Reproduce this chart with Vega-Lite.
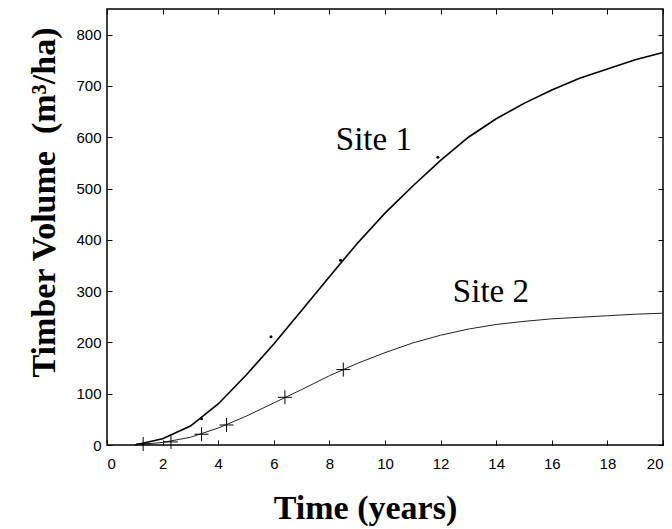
{
  "$schema": "https://vega.github.io/schema/vega-lite/v6.json",
  "width": 556,
  "height": 436,
  "autosize": {"type": "none"},
  "padding": {"left": 107, "top": 9, "right": 9, "bottom": 84},
  "background": "white",
  "config": {
    "view": {"stroke": "black", "strokeWidth": 1.5},
    "axis": {
      "domain": false,
      "grid": false,
      "tickColor": "black",
      "tickSize": -5,
      "tickWidth": 1,
      "labelFont": "Liberation Sans",
      "labelFontSize": 15,
      "labelColor": "black",
      "titleFont": "Liberation Serif",
      "titleFontSize": 34,
      "titleFontWeight": "bold",
      "titleColor": "black"
    }
  },
  "datasets": {
    "pts": [
      {"series": "Site 1", "kind": "curve", "t": 1, "v": 0},
      {"series": "Site 1", "kind": "curve", "t": 2, "v": 12},
      {"series": "Site 1", "kind": "curve", "t": 3, "v": 37},
      {"series": "Site 1", "kind": "curve", "t": 4, "v": 80},
      {"series": "Site 1", "kind": "curve", "t": 5, "v": 136},
      {"series": "Site 1", "kind": "curve", "t": 6, "v": 197},
      {"series": "Site 1", "kind": "curve", "t": 7, "v": 262},
      {"series": "Site 1", "kind": "curve", "t": 8, "v": 328},
      {"series": "Site 1", "kind": "curve", "t": 9, "v": 393},
      {"series": "Site 1", "kind": "curve", "t": 10, "v": 452},
      {"series": "Site 1", "kind": "curve", "t": 11, "v": 505},
      {"series": "Site 1", "kind": "curve", "t": 12, "v": 555},
      {"series": "Site 1", "kind": "curve", "t": 13, "v": 600},
      {"series": "Site 1", "kind": "curve", "t": 14, "v": 636},
      {"series": "Site 1", "kind": "curve", "t": 15, "v": 666},
      {"series": "Site 1", "kind": "curve", "t": 16, "v": 692},
      {"series": "Site 1", "kind": "curve", "t": 17, "v": 715},
      {"series": "Site 1", "kind": "curve", "t": 18, "v": 733},
      {"series": "Site 1", "kind": "curve", "t": 19, "v": 751},
      {"series": "Site 1", "kind": "curve", "t": 20, "v": 765},
      {"series": "Site 2", "kind": "curve", "t": 1, "v": 0},
      {"series": "Site 2", "kind": "curve", "t": 2, "v": 5},
      {"series": "Site 2", "kind": "curve", "t": 3, "v": 15},
      {"series": "Site 2", "kind": "curve", "t": 4, "v": 33},
      {"series": "Site 2", "kind": "curve", "t": 5, "v": 56},
      {"series": "Site 2", "kind": "curve", "t": 6, "v": 82},
      {"series": "Site 2", "kind": "curve", "t": 7, "v": 108},
      {"series": "Site 2", "kind": "curve", "t": 8, "v": 135},
      {"series": "Site 2", "kind": "curve", "t": 9, "v": 159},
      {"series": "Site 2", "kind": "curve", "t": 10, "v": 180},
      {"series": "Site 2", "kind": "curve", "t": 11, "v": 199},
      {"series": "Site 2", "kind": "curve", "t": 12, "v": 214},
      {"series": "Site 2", "kind": "curve", "t": 13, "v": 226},
      {"series": "Site 2", "kind": "curve", "t": 14, "v": 235},
      {"series": "Site 2", "kind": "curve", "t": 15, "v": 241},
      {"series": "Site 2", "kind": "curve", "t": 16, "v": 246},
      {"series": "Site 2", "kind": "curve", "t": 17, "v": 249},
      {"series": "Site 2", "kind": "curve", "t": 18, "v": 252},
      {"series": "Site 2", "kind": "curve", "t": 19, "v": 255},
      {"series": "Site 2", "kind": "curve", "t": 20, "v": 257},
      {"series": "Site 1", "kind": "obs", "t": 3.4, "v": 51},
      {"series": "Site 1", "kind": "obs", "t": 5.9, "v": 211},
      {"series": "Site 1", "kind": "obs", "t": 8.4, "v": 360},
      {"series": "Site 1", "kind": "obs", "t": 11.9, "v": 561},
      {"series": "Site 2", "kind": "obs", "t": 1.3, "v": 2},
      {"series": "Site 2", "kind": "obs", "t": 2.3, "v": 6},
      {"series": "Site 2", "kind": "obs", "t": 3.4, "v": 21},
      {"series": "Site 2", "kind": "obs", "t": 4.3, "v": 39},
      {"series": "Site 2", "kind": "obs", "t": 6.4, "v": 93},
      {"series": "Site 2", "kind": "obs", "t": 8.5, "v": 147}
    ],
    "labels": [
      {"label": "Site 1", "t": 9.6, "v": 576},
      {"label": "Site 2", "t": 13.81, "v": 278}
    ]
  },
  "layer": [
    {
      "data": {"name": "pts"},
      "transform": [{"filter": "datum.kind === 'curve' && datum.series === 'Site 1'"}],
      "mark": {"type": "line", "color": "black", "strokeWidth": 1.6},
      "encoding": {
        "x": {"field": "t", "type": "quantitative",
              "scale": {"domain": [0, 20], "nice": false},
              "axis": {"orient": "bottom", "values": [0,2,4,6,8,10,12,14,16,18,20], "title": "Time (years)",
                       "labelPadding": 16, "titleX": 258, "titleY": 73, "titleBaseline": "alphabetic", "titleAnchor": null, "titleAlign": "center"}},
        "y": {"field": "v", "type": "quantitative",
              "scale": {"domain": [0, 850], "nice": false},
              "axis": {"orient": "left", "values": [0,100,200,300,400,500,600,700,800], "title": "Timber Volume \u00a0(m³/ha)",
                       "labelPadding": 11, "titleX": -63, "titleY": 193, "titleAngle": -90, "titleBaseline": "middle", "titleAlign": "center", "titleAnchor": null}}
      }
    },
    {
      "data": {"name": "pts"},
      "transform": [{"filter": "datum.kind === 'curve' && datum.series === 'Site 2'"}],
      "mark": {"type": "line", "color": "#222222", "strokeWidth": 1},
      "encoding": {
        "x": {"field": "t", "type": "quantitative",
              "axis": {"orient": "top", "values": [0,2,4,6,8,10,12,14,16,18,20], "labels": false, "title": null}},
        "y": {"field": "v", "type": "quantitative",
              "axis": {"orient": "right", "values": [0,100,200,300,400,500,600,700,800], "labels": false, "title": null}}
      }
    },
    {
      "data": {"name": "pts"},
      "transform": [{"filter": "datum.kind === 'obs' && datum.series === 'Site 1'"}],
      "mark": {"type": "point", "shape": "circle", "filled": true, "color": "black", "size": 9, "opacity": 1},
      "encoding": {
        "x": {"field": "t", "type": "quantitative", "axis": null},
        "y": {"field": "v", "type": "quantitative", "axis": null}
      }
    },
    {
      "data": {"name": "pts"},
      "transform": [{"filter": "datum.kind === 'obs' && datum.series === 'Site 2'"}],
      "mark": {"type": "point", "shape": "M-1,0L1,0M0,-1L0,1", "filled": false, "color": "black", "strokeWidth": 1, "size": 196, "opacity": 1},
      "encoding": {
        "x": {"field": "t", "type": "quantitative", "axis": null},
        "y": {"field": "v", "type": "quantitative", "axis": null}
      }
    },
    {
      "data": {"name": "labels"},
      "mark": {"type": "text", "font": "Liberation Serif", "fontSize": 33, "align": "center", "baseline": "alphabetic", "color": "black"},
      "encoding": {
        "x": {"field": "t", "type": "quantitative", "axis": null},
        "y": {"field": "v", "type": "quantitative", "axis": null},
        "text": {"field": "label"}
      }
    }
  ],
  "resolve": {"axis": {"x": "independent", "y": "independent"}}
}
